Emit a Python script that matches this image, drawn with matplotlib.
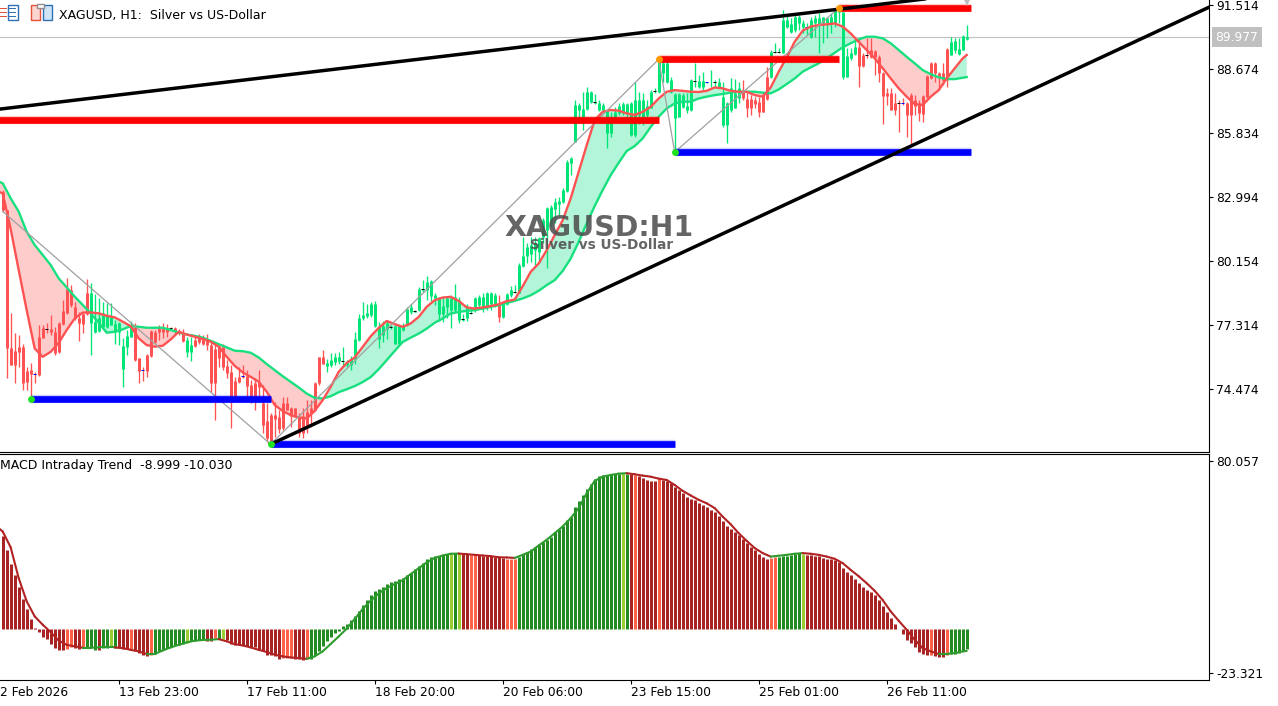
import numpy as np
import matplotlib
matplotlib.use('Agg')
import matplotlib.pyplot as plt
from matplotlib.patches import Rectangle
from matplotlib.transforms import Affine2D

# -------------------------- data --------------------------
high = [
    83.20,82.31,77.73,76.84,76.76,76.39,75.36,75.54,75.14,77.21,
    77.21,77.28,77.65,77.13,77.36,78.32,79.28,78.98,78.25,77.80,
    77.73,79.25,79.06,78.58,78.39,78.25,78.17,78.20,77.43,77.36,
    76.62,76.99,77.40,77.28,75.76,75.36,75.92,76.99,76.99,77.21,
    77.28,77.25,77.13,77.13,77.02,77.02,76.69,76.69,76.76,76.81,
    76.76,76.81,76.54,76.47,76.32,76.39,75.65,75.43,74.91,75.36,
    75.43,75.21,74.77,74.84,75.21,74.54,73.73,73.29,73.80,73.43,
    74.03,74.03,73.58,73.55,73.29,73.51,73.88,73.88,74.69,75.80,
    76.10,75.72,75.97,75.97,76.02,76.24,75.65,75.83,76.91,77.69,
    78.24,78.16,78.24,78.28,77.35,77.39,77.42,77.20,77.20,77.20,
    77.28,78.02,78.16,77.87,78.90,79.20,79.39,79.20,78.61,78.46,
    78.46,78.46,78.53,79.05,78.46,77.72,78.16,78.02,78.46,78.53,
    78.64,78.68,78.68,78.61,78.53,78.24,78.61,78.93,78.98,79.94,
    81.12,80.83,81.12,81.12,81.12,81.94,82.46,82.53,82.83,82.87,
    83.31,84.53,84.68,87.19,87.04,87.56,87.75,87.61,87.46,87.19,
    87.04,86.75,86.67,86.90,87.04,87.12,87.04,87.12,88.00,87.56,
    87.49,87.19,87.63,87.71,88.97,88.89,88.97,88.20,87.49,87.49,
    87.49,87.49,88.12,88.82,88.30,88.45,88.00,88.52,88.08,88.15,
    88.00,87.12,88.15,88.12,88.00,88.08,87.56,87.41,87.34,87.34,
    87.49,88.67,89.41,89.74,89.48,91.19,90.96,90.82,90.96,90.96,
    90.74,90.59,90.89,90.96,91.04,90.89,90.89,91.04,91.19,91.41,
    91.11,89.48,89.48,90.00,89.88,89.26,89.93,89.93,89.41,89.19,
    88.45,87.71,87.71,87.49,87.19,87.26,87.12,87.49,87.41,87.19,
    87.41,88.30,88.89,88.89,88.45,88.82,89.48,90.00,89.93,89.93,
    90.08,90.52]
body_hi = [
    83.13,82.31,76.17,76.05,76.25,76.25,75.17,75.21,75.03,76.69,
    77.09,77.03,77.03,76.88,77.31,77.83,78.81,78.76,78.02,77.53,
    77.70,78.64,78.64,77.36,77.50,77.73,77.65,77.62,77.25,77.31,
    76.28,76.72,77.13,77.13,75.73,75.21,75.88,76.96,76.91,77.06,
    77.06,77.09,77.07,77.10,76.94,76.84,76.54,76.32,76.54,76.65,
    76.65,76.54,76.32,76.14,76.25,76.25,75.39,75.11,74.74,74.91,
    74.93,74.94,74.54,74.62,74.69,73.77,72.96,73.21,73.21,73.11,
    73.73,73.73,73.51,73.51,73.14,73.18,73.36,73.51,74.62,75.77,
    75.80,75.53,75.65,75.77,75.80,75.62,75.57,75.72,76.57,77.54,
    77.65,77.75,78.16,78.13,77.13,77.16,77.28,77.13,77.16,77.16,
    77.16,77.94,77.99,77.82,78.83,78.79,79.13,79.17,78.53,78.46,
    78.05,78.39,78.39,78.46,78.31,77.47,78.02,77.76,78.39,78.46,
    78.46,78.61,78.64,78.53,78.12,78.13,78.58,78.76,78.68,79.87,
    80.27,80.65,80.75,80.83,81.09,81.86,82.38,82.43,82.68,82.72,
    83.20,84.45,84.60,86.97,86.97,86.78,87.56,87.56,87.09,87.07,
    86.97,86.70,86.45,86.67,86.93,87.00,87.01,87.04,87.19,87.19,
    87.19,86.92,87.56,87.60,88.89,88.82,88.82,88.08,87.44,87.44,
    87.41,86.92,88.08,88.05,88.03,88.03,87.99,87.99,87.99,88.00,
    87.34,87.04,87.71,87.49,87.71,87.56,87.22,87.22,87.19,87.12,
    87.41,88.20,89.34,89.34,89.34,90.74,90.74,90.56,90.89,90.89,
    90.59,90.42,90.74,90.82,90.82,90.89,90.82,90.89,91.19,91.33,
    91.11,89.14,89.26,89.56,89.56,89.19,89.19,89.41,89.38,89.11,
    88.40,87.49,87.49,87.04,87.07,87.07,87.07,87.41,87.19,87.04,
    87.37,88.26,88.82,88.82,88.37,88.40,89.44,89.78,89.82,89.45,
    90.03,90.00]
body_lo = [
    82.31,76.17,75.43,75.43,76.02,74.65,74.69,75.03,75.02,74.99,
    76.62,77.02,76.88,75.98,76.00,77.25,77.76,78.10,77.50,77.28,
    77.25,77.70,77.28,76.91,76.94,77.13,77.13,77.21,76.91,76.91,
    75.25,76.25,76.69,75.65,75.18,75.20,75.18,75.83,76.44,76.88,
    76.88,76.88,77.06,76.96,76.84,76.50,76.02,76.02,76.29,76.47,
    76.39,76.32,74.62,74.62,75.73,75.36,75.09,74.07,74.07,74.69,
    74.91,74.50,74.06,74.03,74.47,72.77,72.18,72.03,73.02,72.58,
    72.62,73.46,73.18,73.14,72.40,72.40,72.69,73.29,73.43,74.62,
    75.50,75.38,75.43,75.57,75.62,75.60,75.43,75.43,75.72,76.54,
    77.50,77.60,77.65,77.16,76.61,76.76,77.05,77.11,76.39,76.39,
    77.01,77.20,77.79,77.81,77.87,78.77,78.76,78.49,78.39,77.72,
    77.72,78.02,77.87,77.87,77.45,77.45,77.50,77.75,78.02,78.09,
    78.02,78.02,78.16,78.16,77.57,77.57,78.13,78.53,78.67,78.64,
    79.82,80.27,80.38,80.53,80.46,81.12,81.42,81.64,82.34,82.60,
    82.68,83.15,84.41,85.34,86.75,86.45,86.79,87.12,87.07,86.75,
    86.75,85.74,85.74,86.45,86.60,86.60,86.60,85.64,85.64,86.52,
    86.45,86.52,86.86,87.59,87.56,88.37,88.00,87.56,86.38,86.45,
    86.89,86.75,86.75,88.03,87.75,87.75,87.97,87.97,87.97,87.78,
    86.08,86.08,86.75,86.82,87.26,87.26,86.82,86.82,87.01,86.67,
    86.67,87.22,88.20,89.32,89.32,89.29,90.45,90.22,90.30,90.59,
    90.45,90.40,90.00,90.59,90.52,90.59,90.59,90.59,90.59,91.11,
    88.23,88.23,89.04,89.23,88.70,88.70,89.17,89.08,89.08,88.40,
    87.37,87.37,86.75,86.75,87.06,87.06,86.52,86.52,86.92,86.60,
    86.57,87.34,88.15,88.37,88.15,88.08,88.08,89.19,89.41,89.23,
    89.41,89.88]
low = [
    82.24,74.88,75.43,74.62,75.36,74.32,74.32,73.95,74.62,74.96,
    76.62,76.84,76.76,75.88,75.95,77.21,77.70,78.02,77.43,76.51,
    76.84,77.65,75.88,76.84,76.91,77.13,77.10,77.21,76.39,76.32,
    74.47,75.88,76.69,75.62,74.65,74.74,74.91,75.77,76.39,76.54,
    76.62,76.69,76.99,76.76,76.76,76.47,75.80,75.62,76.25,76.39,
    76.32,76.10,74.25,72.99,75.36,75.21,74.84,72.66,74.03,74.62,
    74.84,74.03,73.73,73.43,74.03,72.40,72.03,71.88,72.25,72.40,
    72.55,73.43,72.69,73.11,72.22,72.18,72.40,72.69,73.40,74.54,
    75.50,75.13,75.35,75.43,75.50,75.35,75.35,75.23,75.50,76.51,
    77.45,77.54,77.57,77.13,76.21,76.46,76.61,77.05,76.36,76.39,
    76.95,77.17,77.72,77.79,77.84,78.68,78.31,78.28,78.09,77.39,
    77.35,77.50,77.10,77.79,77.28,77.39,77.39,77.72,77.79,78.02,
    77.79,77.87,77.87,78.02,77.35,77.54,78.09,78.46,78.61,78.61,
    79.79,79.94,80.01,79.87,79.94,80.83,79.72,81.57,81.72,82.09,
    82.63,83.11,83.86,85.34,86.16,85.86,86.75,87.04,87.01,86.72,
    86.72,85.08,85.56,86.23,86.53,86.53,86.45,85.59,85.56,86.15,
    86.08,86.45,86.82,87.49,87.52,88.00,87.93,87.49,84.97,86.42,
    86.82,86.60,86.72,87.75,87.71,87.63,87.93,87.78,87.78,87.75,
    85.98,85.30,86.67,86.82,87.04,87.19,86.45,86.52,86.82,86.45,
    86.64,87.19,88.15,89.26,89.26,89.26,90.37,90.15,90.22,90.30,
    90.15,90.08,89.93,90.00,89.26,89.71,89.93,90.15,90.45,90.59,
    88.11,88.20,88.97,89.19,87.78,88.67,89.04,89.04,88.30,88.00,
    86.15,86.97,86.75,86.52,85.79,86.97,85.56,85.19,86.52,86.27,
    86.23,87.26,88.12,88.00,87.63,87.86,87.75,89.19,89.26,89.19,
    89.41,89.85]

# bars painted green, everything else is red
green_bars = [(22, 32), (46, 47), (81, 123), (125, 184), (192, 213), (237, 241)]
doji_blue = [8, 35, 60, 176, 201, 225]
doji_dark = [11, 42, 85, 97, 103, 105, 115, 117, 128, 148, 163, 173, 178, 193, 194, 216, 224]

# moving averages and MACD signal, read every 2nd bar
ma_bars = [-1] + list(range(0, 241, 2)) + [241]
ma_fast = [
    83.13,
    83.05,81.47,79.65,77.87,76.17,75.80,76.02,76.42,76.99,77.50,
    77.76,77.77,77.73,77.62,77.55,77.36,77.16,76.62,76.32,76.25,
    76.29,76.57,76.91,76.79,76.69,76.59,76.47,76.25,75.80,75.40,
    75.11,74.91,74.69,74.25,73.66,73.40,73.21,73.11,73.06,73.40,
    73.88,74.47,75.13,75.53,75.77,76.24,76.71,77.08,77.39,77.25,
    77.13,77.28,77.57,78.02,78.31,78.43,78.46,78.28,77.99,77.94,
    77.99,78.05,78.13,78.27,78.34,78.93,79.57,79.94,80.53,81.20,
    81.86,82.83,84.01,85.19,86.30,86.67,86.75,86.72,86.60,86.53,
    86.67,86.89,87.26,87.56,87.63,87.60,87.56,87.55,87.60,87.75,
    87.71,87.60,87.56,87.56,87.41,87.34,87.75,88.45,89.08,89.78,
    90.27,90.45,90.52,90.55,90.59,90.45,90.15,89.77,89.41,89.04,
    88.60,88.15,87.71,87.34,87.01,86.97,87.34,87.63,88.15,88.60,
    89.04,89.19]
ma_slow = [
    83.57,
    83.50,82.83,82.24,81.35,80.76,80.32,79.87,79.28,78.88,78.47,
    78.10,77.73,77.31,76.87,76.91,77.02,77.16,77.13,77.09,77.09,
    77.09,76.99,76.88,76.79,76.73,76.65,76.51,76.36,76.22,76.07,
    76.05,75.98,75.77,75.48,75.21,74.94,74.69,74.44,74.17,73.98,
    73.95,74.05,74.23,74.36,74.50,74.68,74.90,75.25,75.65,76.06,
    76.46,76.65,76.83,77.05,77.31,77.50,77.72,77.79,77.84,77.87,
    77.94,78.02,78.09,78.19,78.28,78.39,78.53,78.73,78.98,79.20,
    79.61,80.16,80.90,81.72,82.49,83.20,83.86,84.41,84.93,85.15,
    85.49,86.00,86.45,86.82,87.04,87.12,87.12,87.26,87.34,87.41,
    87.46,87.52,87.56,87.56,87.56,87.52,87.49,87.66,87.90,88.15,
    88.45,88.64,88.82,89.04,89.29,89.53,89.71,89.88,90.00,90.00,
    89.93,89.71,89.41,89.11,88.82,88.52,88.34,88.20,88.12,88.12,
    88.18,88.21]

# support / resistance levels: start bar, end bar, price
res_levels = [(-1, 164, 86.29), (164, 209, 89.00), (209, 242, 91.27)]
sup_levels = [(7, 67, 73.92), (67, 168, 71.92), (168, 242, 84.88)]

zigzag_bars = [0, 67, 164, 168, 209]
zigzag_prices = [82.25, 71.92, 89.00, 84.88, 91.27]
upper_trend_bars = [-0.7, 301.7]
upper_trend_prices = [86.79, 93.18]
lower_trend_bars = [67, 301.7]
lower_trend_prices = [71.92, 91.32]

last_price = 89.977
price_ticks = [91.514, 88.674, 85.834, 82.994, 80.154, 77.314, 74.474]

macd_hist = [
    42.7,36.3,29.9,24.6,19.2,13.9,9.3,4.7,0.5,-1.5,
    -3.4,-4.6,-6.7,-8.7,-9.5,-9.5,-9.0,-8.4,-8.7,-9.3,
    -8.7,-8.4,-8.7,-9.5,-9.5,-8.7,-8.7,-8.4,-8.7,-8.7,
    -9.2,-9.2,-9.5,-10.2,-11.0,-12.0,-12.5,-11.7,-11.3,-10.2,
    -9.5,-8.7,-8.1,-7.5,-7.2,-6.9,-6.4,-5.6,-5.3,-5.0,
    -4.9,-5.3,-5.3,-4.1,-4.6,-4.4,-4.9,-6.9,-7.5,-7.5,
    -7.5,-7.9,-8.4,-8.4,-9.5,-10.2,-11.7,-12.0,-12.5,-13.7,
    -13.3,-13.3,-13.3,-13.6,-13.6,-14.3,-13.6,-13.6,-11.7,-9.9,
    -7.9,-5.3,-3.7,-1.8,-1.1,1.5,2.3,4.0,6.1,8.5,
    11.1,13.4,15.7,17.5,18.5,19.5,20.7,21.5,22.1,23.0,
    23.6,24.9,25.9,27.5,28.7,30.2,32.2,32.8,33.6,33.7,
    33.9,34.3,34.6,34.8,34.8,34.3,34.2,34.0,34.0,34.0,
    33.7,33.6,33.6,33.2,33.2,32.5,32.3,32.3,32.3,33.1,
    34.3,35.5,36.6,37.5,38.6,39.8,40.6,42.4,44.4,45.9,
    47.4,50.0,51.5,55.7,58.7,61.5,64.2,66.3,68.8,70.3,
    70.6,70.6,70.9,71.1,71.2,71.4,71.2,70.9,70.6,70.2,
    69.4,68.5,68.0,68.0,68.8,68.5,68.0,67.1,65.3,63.7,
    62.5,60.7,59.6,59.2,57.6,56.9,56.1,54.6,53.8,52.0,
    49.3,47.3,45.9,44.4,43.2,41.3,39.3,37.8,36.3,34.5,
    33.2,32.2,32.6,32.8,33.2,33.6,33.7,34.0,34.3,34.8,
    34.3,34.0,34.0,33.7,33.6,32.5,32.2,31.9,31.6,30.7,
    27.9,26.1,24.6,23.0,21.0,19.5,18.0,17.2,15.4,13.1,
    10.4,7.8,5.0,2.4,0.2,-2.1,-4.9,-6.4,-8.2,-10.5,
    -11.4,-11.7,-11.7,-12.2,-12.7,-12.7,-11.7,-11.4,-11.3,-11.0,
    -10.2,-9.0]
macd_kinds = ('r'*16 + 'oo' + 'rr' + 'o' + 'ggg' + 'r' + 'gg' + 'y' + 'g' + 'rrr' + 'o' + 'rrrr' + 'o'
              + 'g'*8 + 'y' + 'gggg' + 'rr' + 'o' + 'g' + 'y' + 'r'*14 + 'ooo' + 'rrr' + 'o' + 'g'*35
              + 'y' + 'g' + 'y' + 'rr' + 'oo' + 'r'*7 + 'ooo' + 'g'*26 + 'y' + 'g' + 'r' + 'o' + 'r'*5
              + 'o' + 'r'*27 + 'oo' + 'g'*6 + 'y' + 'r'*31 + 'o' + 'rrr' + 'o' + 'g'*5)
macd_signal = [
    46.2,
    44.7,37.4,23.3,12.7,5.8,2.0,-1.4,-5.3,-7.2,-7.9,
    -8.5,-8.5,-8.4,-8.4,-8.4,-8.7,-9.5,-10.2,-11.4,-11.4,
    -9.8,-8.4,-7.2,-6.1,-5.3,-5.0,-4.9,-4.6,-5.6,-6.9,
    -7.5,-8.4,-9.5,-10.5,-11.7,-12.5,-13.0,-13.3,-13.6,-12.5,
    -10.2,-6.8,-3.4,0.2,4.6,9.2,13.0,16.3,18.8,20.6,
    22.4,25.2,27.9,30.5,32.6,33.7,34.5,34.6,34.3,34.0,
    33.7,33.4,32.9,32.8,32.6,34.0,35.5,38.3,40.9,43.9,
    47.0,50.8,55.4,62.2,67.9,69.8,70.6,71.2,71.4,70.9,
    70.3,69.8,68.9,68.3,66.0,63.3,61.2,59.2,57.6,55.4,
    51.5,48.0,43.9,40.4,37.1,34.8,33.2,33.6,34.0,34.5,
    34.8,34.5,34.0,33.2,32.2,30.2,27.1,24.2,21.0,17.5,
    13.3,8.1,3.8,-0.3,-4.9,-8.7,-10.2,-11.4,-11.4,-11.0,
    -10.2,-10.03]
macd_ticks = [80.057, -23.321]

time_ticks = [29, 61, 93, 125, 157, 189, 221]
time_labels = ['13 Feb 23:00', '17 Feb 11:00', '18 Feb 20:00', '20 Feb 06:00',
               '23 Feb 15:00', '25 Feb 01:00', '26 Feb 11:00']

# -------------------------- style --------------------------
RED = '#FF5252'
GREEN = '#00E676'
MACD_COLORS = {'r': '#A82424', 'o': '#FF6347', 'g': '#228B22', 'y': '#9ACD32'}
W, H = 1278, 706
AXIS_RIGHT = 1209.3
XLIM = (-0.675, 301.65)
PX = 0.72  # one pixel in points at dpi 100

plt.rcParams['font.family'] = ['DejaVu Sans']
plt.rcParams['font.size'] = 8.8

fig = plt.figure(figsize=(W / 100, H / 100), dpi=100, facecolor='white')
ax = fig.add_axes([0, 1 - 451.7 / H, AXIS_RIGHT / W, 451.7 / H])
ax_macd = fig.add_axes([0, 1 - 680 / H, AXIS_RIGHT / W, (680 - 454.3) / H])


def shift_yticks(axis, shifts):
    # MT5 draws its scale labels a little off the true price, shifts are in pixels downward
    for tick, dy in zip(axis.yaxis.get_major_ticks(), shifts):
        off = Affine2D().translate(0, -dy)
        tick.label2.set_transform(tick.label2.get_transform() + off)
        tick.tick2line.set_transform(tick.tick2line.get_transform() + off)


# -------------------------- price panel --------------------------
bars = np.arange(len(high))
fast = np.array(ma_fast)
slow = np.array(ma_slow)
ax.fill_between(ma_bars, fast, slow, where=fast <= slow, interpolate=True, color='#FFCCCC', lw=0, zorder=1)
ax.fill_between(ma_bars, fast, slow, where=fast >= slow, interpolate=True, color='#B2F5D8', lw=0, zorder=1)

candle_colors = [RED] * len(bars)
for first, last in green_bars:
    for b in range(first, last + 1):
        candle_colors[b] = GREEN
ax.vlines(bars, low, high, colors=candle_colors, lw=0.95, capstyle='butt', zorder=2)
ax.vlines(bars, body_lo, body_hi, colors=candle_colors, lw=3 * PX, capstyle='butt', zorder=3)
for group, col in ((doji_blue, '#0000FF'), (doji_dark, '#000000')):
    ax.hlines([body_hi[b] for b in group], np.array(group) - 0.45, np.array(group) + 0.45,
              colors=col, lw=PX, zorder=4)

ax.plot(ma_bars, ma_slow, color='#17E07F', lw=1.7, zorder=5)
ax.plot(ma_bars, ma_fast, color=RED, lw=1.7, zorder=6)

ax.axhline(last_price, color='#C0C0C0', lw=0.8, zorder=1.5)
ax.plot(zigzag_bars, zigzag_prices, color='#A0A0A0', lw=0.9, zorder=6.5)
ax.plot(upper_trend_bars, upper_trend_prices, color='black', lw=2.5, zorder=8)
ax.plot(lower_trend_bars, lower_trend_prices, color='black', lw=2.5, zorder=8)

for start, end, price in res_levels:
    ax.plot([start, end], [price, price], color='#FF0000', lw=6.0, alpha=0.2, solid_capstyle='butt', zorder=6.8)
    ax.plot([start, end], [price, price], color='#FF0000', lw=4.8, solid_capstyle='butt', zorder=7)
for start, end, price in sup_levels:
    ax.plot([start, end], [price, price], color='#0000FF', lw=6.0, alpha=0.2, solid_capstyle='butt', zorder=6.8)
    ax.plot([start, end], [price, price], color='#0000FF', lw=4.8, solid_capstyle='butt', zorder=7)

ax.plot([s[0] for s in sup_levels], [s[2] for s in sup_levels], 'o', color='#22E022', ms=5, mew=0, zorder=9)
ax.plot([r[0] for r in res_levels[1:]], [r[2] for r in res_levels[1:]], 'o', color='#FF9800', ms=5, mew=0, zorder=9)
ax.plot([241], [91.62], 'v', color='#BDBDBD', ms=8, mew=0, zorder=9)

ax.text(149, 81.53, 'XAGUSD:H1', fontsize=20.4, fontweight='bold', color='#505050', alpha=0.88,
        ha='center', va='center', zorder=10)
ax.text(149.6, 80.74, 'Silver vs US-Dollar', fontsize=9.8, fontweight='bold', color='#505050', alpha=0.88,
        ha='center', va='center', zorder=10)

ax.set_xlim(*XLIM)
ax.set_ylim(71.59, 91.63)
ax.set_xticks([])
ax.yaxis.tick_right()
ax.set_yticks(price_ticks)
ax.set_yticklabels([f'{t:.3f}' for t in price_ticks])
ax.tick_params(axis='y', length=3, width=0.8, pad=2, colors='black')
shift_yticks(ax, [2.3] * len(price_ticks))
ax.spines['top'].set_visible(False)
ax.spines['left'].set_visible(False)

ax.annotate(f'{last_price:.3f}', xy=(1, last_price), xycoords=('axes fraction', 'data'),
            xytext=(6, 0), textcoords='offset pixels', color='white', va='center', ha='left',
            bbox=dict(boxstyle='square,pad=0.3', fc='#C0C0C0', ec='none'), annotation_clip=False)

# -------------------------- MACD panel --------------------------
ax_macd.vlines(bars, 0, macd_hist, colors=[MACD_COLORS[k] for k in macd_kinds], lw=3 * PX, capstyle='butt')
for k in range(len(ma_bars) - 1):
    col = '#2E9B2E' if macd_signal[k + 1] >= macd_signal[k] else '#B22222'
    ax_macd.plot(ma_bars[k:k + 2], macd_signal[k:k + 2], color=col, lw=1.5, solid_capstyle='round')

ax_macd.set_xlim(*XLIM)
ax_macd.set_ylim(-23.321, 80.057)
ax_macd.yaxis.tick_right()
ax_macd.set_yticks(macd_ticks)
ax_macd.set_yticklabels([f'{t:.3f}' for t in macd_ticks])
ax_macd.tick_params(axis='y', length=3, width=0.8, pad=2)
shift_yticks(ax_macd, [6.7, -7])
ax_macd.set_xticks(time_ticks)
ax_macd.set_xticklabels(time_labels, ha='left')
ax_macd.tick_params(axis='x', length=3, width=0.8, pad=1.4)
ax_macd.spines['left'].set_visible(False)
ax_macd.annotate('2 Feb 2026', xy=(0, 0), xycoords='axes fraction', xytext=(0, -4.4), textcoords='offset points',
                 va='top', ha='left')

fig.text(0 / W, 1 - 466 / H, 'MACD Intraday Trend  -8.999 -10.030', va='center', ha='left', fontsize=9)
fig.text(59 / W, 1 - 15 / H, 'XAGUSD, H1:  Silver vs US-Dollar', va='center', ha='left', fontsize=9)

# -------------------------- little toolbar icons, top left --------------------------
ax_icon = fig.add_axes([0, 1 - 24 / H, 60 / W, 24 / H])
ax_icon.set_xlim(0, 60)
ax_icon.set_ylim(24, 0)
ax_icon.axis('off')
for y0 in (8, 12, 16):
    ax_icon.add_patch(Rectangle((0, y0), 7, 1.2, color='#E8503A', lw=0))
    ax_icon.add_patch(Rectangle((9, y0), 7, 1.2, color='#2F6FB5', lw=0))
ax_icon.add_patch(Rectangle((8.2, 5), 10, 15, fill=False, ec='#2F6FB5', lw=1))
ax_icon.add_patch(Rectangle((30.5, 5), 9, 15, fc='#FBD5D0', ec='#E8503A', lw=1))
ax_icon.add_patch(Rectangle((43, 5), 8.5, 15, fc='#CFE4F7', ec='#2F6FB5', lw=1))
ax_icon.add_patch(Rectangle((37, 4), 7, 4, fc='white', ec='#909090', lw=1))

fig.savefig('out.png', dpi=100, facecolor='white')
